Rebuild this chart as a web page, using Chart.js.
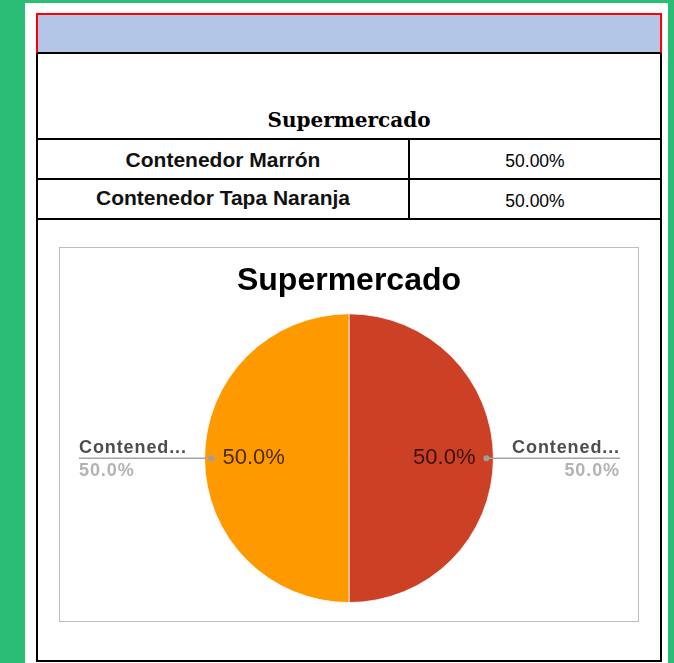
<!DOCTYPE html>
<html>
<head>
<meta charset="utf-8">
<script src="https://cdn.jsdelivr.net/npm/chart.js@4/dist/chart.umd.min.js"></script>
<style>
  html,body{margin:0;padding:0;}
  body{width:674px;height:663px;background:#29BD75;position:relative;overflow:hidden;font-family:"Liberation Sans",Arial,sans-serif;}
  .abs{position:absolute;box-sizing:border-box;}
  #panel{left:25px;top:3px;width:643px;height:665px;background:#fff;}
  #outer{left:36px;top:13px;width:626px;height:649px;border:2px solid #000;}
  #hdr{left:36px;top:13px;width:626px;height:41px;background:#B4C6E7;border:2px solid #ff0000;border-bottom:2px solid #000;}
  .hline{height:2px;background:#000;}
  .vline{width:2px;background:#000;}
  .cell{display:flex;align-items:center;justify-content:center;color:#000;white-space:nowrap;}
  #ttl{left:38px;top:101px;width:622px;height:38px;font-family:"DejaVu Serif","Liberation Serif",serif;font-weight:bold;font-size:20px;}
  .lab{font-size:21px;font-weight:bold;color:#111;}
  .val{font-size:17.5px;}
  #box{left:59px;top:247px;width:580px;height:375px;border:1px solid #bdbdbd;}
  #cv{position:absolute;left:0;top:0;}
</style>
</head>
<body>
<div id="panel" class="abs"></div>
<div id="outer" class="abs"></div>
<div id="hdr" class="abs"></div>
<div class="abs hline" style="left:36px;top:138px;width:626px;"></div>
<div class="abs hline" style="left:36px;top:178px;width:626px;"></div>
<div class="abs hline" style="left:36px;top:218px;width:626px;"></div>
<div class="abs vline" style="left:408px;top:138px;height:82px;"></div>
<div id="ttl" class="abs cell"></div>
<div id="r1l" class="abs cell lab" style="left:38px;top:141px;width:370px;height:38px;"></div>
<div id="r1v" class="abs cell val" style="left:410px;top:142px;width:250px;height:38px;"></div>
<div id="r2l" class="abs cell lab" style="left:38px;top:179px;width:370px;height:38px;"></div>
<div id="r2v" class="abs cell val" style="left:410px;top:182px;width:250px;height:38px;"></div>
<div id="box" class="abs"><canvas id="cv" width="578" height="373"></canvas></div>
<script>
// ---- data ----
const chartTitle = "Supermercado";
const categories = ["Contenedor Marrón", "Contenedor Tapa Naranja"];
const values = [50, 50];
const tableValues = ["50.00%", "50.00%"];
const sliceColors = ["#CC4125", "#FF9900"];

// ---- table ----
document.getElementById('ttl').textContent = chartTitle;
document.getElementById('r1l').textContent = categories[0];
document.getElementById('r2l').textContent = categories[1];
document.getElementById('r1v').textContent = tableValues[0];
document.getElementById('r2v').textContent = tableValues[1];

function truncate(s, n){ return s.length > n ? s.slice(0, n) + "..." : s; }

const labelPlugin = {
  id: 'pieLabels',
  afterDatasetsDraw(chart){
    const ctx = chart.ctx;
    const meta = chart.getDatasetMeta(0);
    const data = chart.data.datasets[0].data;
    const total = data.reduce((a,b)=>a+b,0);
    const W = chart.width;
    meta.data.forEach((arc, i) => {
      const p = arc.getProps(['x','y','startAngle','endAngle','outerRadius'], true);
      const mid = (p.startAngle + p.endAngle) / 2;
      const pct = (data[i] / total * 100).toFixed(1) + "%";
      const cos = Math.cos(mid), sin = Math.sin(mid);
      // inner label
      ctx.save();
      ctx.font = '22px "Liberation Sans", Arial, sans-serif';
      ctx.fillStyle = 'rgba(0,0,0,0.72)';
      ctx.textAlign = 'center';
      ctx.textBaseline = 'middle';
      ctx.fillText(pct, p.x + cos * p.outerRadius * 0.66, p.y + sin * p.outerRadius * 0.66);
      // leader line
      const dx = p.x + cos * (p.outerRadius - 7);
      const dy = p.y + sin * (p.outerRadius - 7);
      const right = cos >= 0;
      const endX = right ? W - 18 : 19;
      ctx.strokeStyle = '#a6a6a6';
      ctx.lineWidth = 1.6;
      ctx.beginPath(); ctx.moveTo(dx, dy); ctx.lineTo(endX, dy); ctx.stroke();
      ctx.fillStyle = '#9e9e9e';
      ctx.beginPath(); ctx.arc(dx, dy, 3, 0, Math.PI*2); ctx.fill();
      // outside text
      ctx.textAlign = right ? 'right' : 'left';
      ctx.textBaseline = 'alphabetic';
      try { ctx.letterSpacing = '0.9px'; } catch(e) {}
      ctx.font = 'bold 18px "Liberation Sans", Arial, sans-serif';
      ctx.fillStyle = '#4d4d4d';
      ctx.fillText(truncate(chart.data.labels[i], 8), endX, dy - 5);
      ctx.fillStyle = '#b3b3b3';
      ctx.fillText(pct, endX, dy + 17.5);
      ctx.restore();
    });
  }
};

new Chart(document.getElementById('cv'), {
  type: 'pie',
  data: {
    labels: categories,
    datasets: [{
      data: values,
      backgroundColor: sliceColors,
      borderColor: '#ffffff',
      borderWidth: 0.8
    }]
  },
  options: {
    responsive: false,
    animation: false,
    layout: { padding: { left: 100, right: 100, top: 0, bottom: 18 } },
    plugins: {
      legend: { display: false },
      tooltip: { enabled: false },
      title: {
        display: true,
        text: chartTitle,
        color: '#000',
        font: { family: '"Liberation Sans", Arial, sans-serif', size: 32, weight: 'bold' },
        padding: { top: 14, bottom: 13 }
      }
    }
  },
  plugins: [labelPlugin]
});
</script>
</body>
</html>
